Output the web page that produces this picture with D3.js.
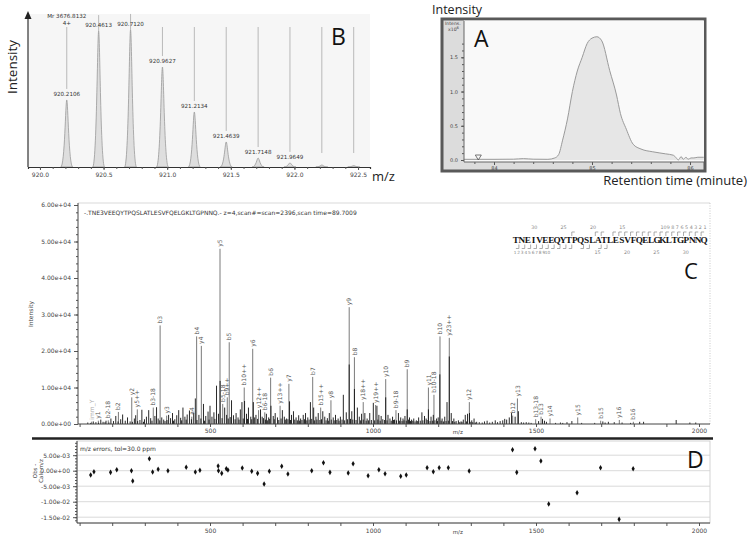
<!DOCTYPE html>
<html>
<head>
<meta charset="utf-8">
<script src="https://cdn.jsdelivr.net/npm/d3@7"></script>
<style>
  body { margin: 0; background: #fff; }
  svg { display: block; }
  text { font-family: "DejaVu Sans", sans-serif; }
</style>
</head>
<body>
<div id="figure"></div>
<script>
// ---------- Data ----------
// Panel B: isotope cluster (relative intensity %)
const bPeakMz = [920.2106, 920.4613, 920.7120, 920.9627, 921.2134, 921.4639, 921.7148, 921.9649, 922.2153, 922.4658];
const bPeakInt = [47.9, 97.1, 97.9, 71.4, 39.3, 17.9, 6.4, 2.9, 1.4, 1.0];
const bPeakLabels = ["920.2106", "920.4613", "920.7120", "920.9627", "921.2134", "921.4639", "921.7148", "921.9649", "", ""];
const bTicks = [920.0, 920.5, 921.0, 921.5, 922.0, 922.5];

// Panel A: extracted ion chromatogram
const aTime = [83.69, 84.0, 84.2, 84.3, 84.4, 84.55, 84.62, 84.66, 84.7, 84.75, 84.8, 84.85, 84.9, 84.95, 85.0, 85.05, 85.1, 85.18, 85.25, 85.29, 85.35, 85.42, 85.5, 85.62, 85.75, 85.83, 85.86, 85.88, 85.91, 85.93, 85.96, 85.98, 86.01, 86.04, 86.08, 86.14];
const aInt = [0.01, 0.01, 0.012, 0.02, 0.012, 0.01, 0.03, 0.08, 0.29, 0.6, 1.0, 1.3, 1.5, 1.7, 1.78, 1.80, 1.74, 1.31, 0.95, 0.68, 0.45, 0.23, 0.16, 0.12, 0.09, 0.07, 0.03, 0.0, 0.05, 0.01, 0.04, 0.01, 0.03, 0.03, 0.04, 0.04];
const aYTicks = [0.0, 0.5, 1.0, 1.5];
const aXTicks = [84, 85, 86];

// Panel C: annotated MS/MS peaks
const cIonLabels = ["imm_Y","y1","b2-18","b2","y2","y5++","b3-18","b3","y3","a4","b4","y4","y5","b5-18","b9++","b5","b10++","y6","y12++","b6-18","b6","y13++","y7","b7","b15++","y8","y9","b8","y18++","y19++","y10","b9-18","b9","y11","b10-18","b10","y23++","y12","b12","y13","b13-18","b13","y14","y15","b15","y16","b16"];
const cIonMz = [137, 157.5, 188, 219, 260, 277, 326, 347, 367, 444, 459, 473.4, 530.7, 539, 553, 559, 605, 631, 649, 668, 686, 715, 742, 815, 839.5, 871, 927, 943, 970, 1008, 1039, 1070.5, 1105, 1170, 1187, 1205.5, 1234, 1295.5, 1428.5, 1443, 1499, 1515.5, 1543, 1628, 1698.4, 1755.6, 1798.6];
const cIonInt = [630, 900, 1000, 3300, 7300, 4000, 4500, 27000, 2300, 2000, 24000, 21400, 48000, 5500, 7300, 22400, 10000, 20600, 3800, 3200, 12700, 5000, 11000, 12900, 4500, 6500, 32000, 18300, 6000, 5200, 12300, 3800, 15000, 10000, 8000, 24000, 23600, 6000, 2300, 7000, 1300, 2000, 1500, 1800, 900, 1100, 600];

// Panel C: unassigned peaks [m/z, intensity]
const cNoise = [
  [125,400],[134,300],[142,700],[150,500],[158,350],[165,1200],[172,600],[178,500],[181,900],[190,400],[196,1500],[204,800],[211,2200],[218,700],
  [226,1300],[232,2600],[240,900],[247,1800],[255,700],[262,600],[268,1500],[272,2400],[278,800],[285,1100],[291,3900],[296,600],[299,1300],
  [305,2000],[312,3800],[318,1600],[322,900],[331,2200],[336,4600],[341,1500],[346,1000],[352,1800],[358,1200],[362,800],[368,1100],[373,2500],
  [379,1600],[385,3000],[388,900],[392,1300],[398,2400],[404,3800],[410,1700],[413,1000],[417,4500],[423,2000],[427,1200],[430,2600],[437,3700],
  [443,1300],[450,3000],[455,7000],[460,1100],[466,2500],[472,1500],[480,5500],[483,900],[487,2200],[494,3400],[497,1200],[500,5000],[506,2000],
  [512,3200],[515,1400],[520,10500],[526,2800],[531,11800],[537,1600],[545,4500],[551,2500],[556,1500],[562,1900],[566,6500],[572,2400],
  [577,1300],[580,3000],[586,1800],[589,1200],[593,4000],[598,6000],[602,1500],[606,6300],[612,2800],[615,1400],[618,4500],[625,2000],
  [628,1300],[633,6000],[637,1800],[641,2500],[646,1400],[655,4000],[660,2000],[664,1600],[670,1200],[673,2800],[676,1000],[680,1800],
  [683,1400],[687,5000],[694,2200],[697,1300],[700,3000],[707,1800],[711,1100],[718,1500],[722,3800],[728,2000],[731,1200],[735,1500],
  [739,1300],[744,6200],[747,1100],[750,2500],[756,3500],[760,1200],[764,1800],[768,1000],[772,2400],[775,900],[778,1500],[782,1100],
  [786,2500],[790,1300],[793,3000],[797,1000],[800,1800],[804,1200],[808,6000],[812,1400],[818,4500],[821,1000],[825,2000],[828,1200],
  [832,3000],[837,1100],[842,1300],[846,3500],[852,2000],[856,1000],[860,1600],[863,900],[866,3000],[872,1200],[878,1800],[881,1000],
  [885,2500],[889,1100],[893,1500],[896,900],[900,2000],[905,1200],[909,8000],[913,1000],[918,3200],[922,1300],[927,16300],[931,1400],
  [935,3500],[938,1200],[943,9600],[948,1100],[952,4500],[958,2000],[962,1000],[965,2800],[970,1200],[975,3000],[979,900],[982,1500],
  [986,1000],[990,3000],[995,1100],[1001,5800],[1005,1000],[1012,5000],[1015,1200],[1018,2500],[1022,900],[1025,2200],[1030,1300],
  [1035,1100],[1039,7300],[1043,1000],[1046,2500],[1052,1500],[1056,900],[1060,2000],[1063,1100],[1066,1200],[1072,1000],[1078,3000],
  [1081,900],[1085,1800],[1089,800],[1092,1500],[1095,1000],[1098,2200],[1102,900],[1105,4000],[1109,1200],[1112,1800],[1115,800],
  [1118,1200],[1122,900],[1125,1500],[1129,700],[1133,1000],[1137,800],[1140,1800],[1145,900],[1150,3200],[1153,1000],[1158,2200],
  [1163,1500],[1166,1100],[1170,4000],[1175,800],[1178,2000],[1182,900],[1185,2500],[1190,1000],[1195,1500],[1198,800],[1200,1800],
  [1205,13600],[1209,900],[1212,1500],[1216,700],[1220,2000],[1224,800],[1227,6000],[1231,900],[1234,18500],[1240,3000],[1244,800],
  [1248,1500],[1251,600],[1255,800],[1262,1000],[1266,500],[1270,700],[1273,600],[1277,1200],[1283,2500],[1287,700],[1290,2800],
  [1296,3000],[1300,600],[1303,1000],[1306,500],[1310,1500],[1314,400],[1318,600],[1326,500],[1335,400],[1342,700],[1350,900],
  [1358,400],[1366,600],[1375,1000],[1382,500],[1390,800],[1398,1000],[1404,1400],[1410,1200],[1418,1800],[1425,3000],[1436,2000],
  [1446,3500],[1455,500],[1462,400],[1470,500],[1478,400],[1485,300],[1508,800],[1520,1400],[1526,900],[1532,600],[1560,300],
  [1575,400],[1582,300],[1595,500],[1610,800],[1640,300],[1680,300],[1705,700],[1712,400],[1722,600],[1740,500],[1764,400],
  [1790,300],[1818,600],[1830,600],[1930,1100],[1972,400],[1990,400]
];
const cYTicks = [0, 10000, 20000, 30000, 40000, 50000, 60000];
const mzTicks = [500, 1000, 1500, 2000];

// Sequence coverage
const sequence = "TNEIVEEQYTPQSLATLESVFQELGKLTGPNNQ";
const bObserved = [1, 2, 3, 4, 5, 6, 7, 8, 9, 10, 12, 13, 15, 16];
const yObserved = [1, 2, 3, 4, 5, 6, 7, 8, 9, 10, 11, 12, 13, 14, 15, 16, 18, 19, 23];
const seqMarks = [15, 20, 25, 30];

// Panel D: mass errors
const dMz = [134, 144, 195, 214, 259, 263, 314, 324, 341, 371, 427, 455, 469, 525, 526, 536, 550, 555, 599, 628, 646, 666, 682, 720, 739, 812, 848, 868, 924, 939, 985, 1018, 1037, 1085, 1102, 1166, 1185, 1203, 1231, 1295, 1428, 1441, 1497, 1515, 1539, 1626, 1698, 1755, 1798];
const dErr = [-1.39e-3, -0.32e-3, -0.53e-3, 0.32e-3, 0, -3.32e-3, 3.87e-3, -0.42e-3, 0.45e-3, 0, 1.1e-3, -0.42e-3, 0.13e-3, 1.52e-3, 0, -0.86e-3, 0.65e-3, 0.23e-3, 0.87e-3, -0.2e-3, -0.86e-3, -4.29e-3, -0.2e-3, 1.42e-3, -1.06e-3, 0, 2.58e-3, -0.53e-3, -0.75e-3, 2.26e-3, -1.61e-3, 0.32e-3, -0.97e-3, -1.81e-3, -1.39e-3, 0.97e-3, -0.32e-3, 0.97e-3, 0.97e-3, -0.1e-3, 6.77e-3, -0.53e-3, 7.1e-3, 3.13e-3, -10.74e-3, -7.1e-3, 0.97e-3, -15.7e-3, 0.65e-3];
const dYTicks = [5e-3, 0, -5e-3, -1e-2, -1.5e-2];

// ---------- Helpers ----------
const sciFormat = d => d.toExponential(2).replace(/e([+-])(\d)$/, "e$10$2");
const axisGray = "#555";

const styleAxis = (g, size) => {
  g.attr("font-family", "DejaVu Sans, sans-serif").attr("font-size", size);
  g.selectAll("line").attr("stroke", axisGray);
  g.selectAll("path").attr("stroke", axisGray);
  g.selectAll("text").attr("fill", "#444");
};

const svg = d3.select("#figure")
  .append("svg")
    .attr("width", 748)
    .attr("height", 537);

// ================= Panel B =================
const xB = d3.scaleLinear().domain([919.906, 922.594]).range([28, 370]);
const yB = d3.scaleLinear().domain([0, 100]).range([167, 27]);

const gB = svg.append("g");
gB.append("rect")
  .attr("x", 28).attr("y", 14).attr("width", 342).attr("height", 153)
  .attr("fill", "#f6f6f6");

// theoretical isotope lines
bPeakMz.forEach((mz, i) => {
  const labelY = yB(bPeakInt[i]) - 4;
  const x = xB(mz);
  let top = Math.min(yB(100), labelY - 12);
  let bottom = bPeakLabels[i] ? labelY - 7 : yB(10);
  if (bPeakLabels[i] && bottom < top + 10) bottom = yB(bPeakInt[i]);
  gB.append("line")
    .attr("x1", x).attr("x2", x).attr("y1", top).attr("y2", bottom)
    .attr("stroke", "#aaa").attr("stroke-width", 0.8);
});

// observed peaks
const peakPath = (mz, inten) => {
  const x = xB(mz), y0 = yB(0), y1 = yB(inten);
  return `M${x - 6},${y0} C${x - 2},${y0} ${x - 1.2},${y1} ${x},${y1} C${x + 1.2},${y1} ${x + 2},${y0} ${x + 6},${y0} Z`;
};
gB.selectAll("path.peak")
  .data(bPeakMz)
  .join("path")
    .attr("class", "peak")
    .attr("d", (d, i) => peakPath(d, bPeakInt[i]))
    .attr("fill", "#dedede")
    .attr("stroke", "#999")
    .attr("stroke-width", 0.8);

gB.selectAll("text.plabel")
  .data(bPeakLabels)
  .join("text")
    .attr("class", "plabel")
    .attr("x", (d, i) => xB(bPeakMz[i]))
    .attr("y", (d, i) => yB(bPeakInt[i]) - 4)
    .attr("text-anchor", "middle")
    .attr("font-size", 5.6)
    .attr("fill", "#333")
    .text(d => d);

gB.append("text").attr("x", xB(bPeakMz[0])).attr("y", 18).attr("text-anchor", "middle")
  .attr("font-size", 5.6).attr("fill", "#333").text("Mr 3676.8132");
gB.append("text").attr("x", xB(bPeakMz[0])).attr("y", 25).attr("text-anchor", "middle")
  .attr("font-size", 5.6).attr("fill", "#333").text("4+");

// axes B
const bMinor = gB.append("g").attr("transform", "translate(0,167)")
  .call(d3.axisBottom(xB).tickValues(d3.range(9200, 9226, 1).map(d => d / 10)).tickSize(2).tickFormat(""));
styleAxis(bMinor, 6);
const bMajor = gB.append("g").attr("transform", "translate(0,167)")
  .call(d3.axisBottom(xB).tickValues(bTicks).tickSize(3).tickFormat(d3.format(".1f")));
styleAxis(bMajor, 6);
bMajor.select(".domain").remove();
bMinor.select(".domain").attr("stroke", "#333").attr("stroke-width", 1.2);
bMajor.selectAll("text").attr("dy", "0.6em");

gB.append("line").attr("x1", 28).attr("x2", 28).attr("y1", 167).attr("y2", 16)
  .attr("stroke", "#333").attr("stroke-width", 1.2);
gB.append("path").attr("d", "M24.5,19 L31.5,19 L28,11 Z").attr("fill", "#222");

gB.append("text")
  .attr("transform", "translate(17,67) rotate(-90)")
  .attr("text-anchor", "middle")
  .style("font-family", "Open Sans, sans-serif")
  .attr("font-size", 13.5).attr("fill", "#222")
  .text("Intensity");
gB.append("text").attr("x", 372).attr("y", 181)
  .style("font-family", "Open Sans, sans-serif")
  .attr("font-size", 13).attr("fill", "#222").text("m/z");
gB.append("text").attr("x", 331).attr("y", 45)
  .style("font-family", "Open Sans, sans-serif")
  .attr("font-size", 23).attr("fill", "#111").text("B");

// ================= Panel A =================
const xA = d3.scaleLinear().domain([84, 86]).range([494, 690]);
const yA = d3.scaleLinear().domain([0, 1.5]).range([160, 57.3]);
const gA = svg.append("g");

gA.append("rect").attr("x", 442).attr("y", 19).attr("width", 263).attr("height", 152)
  .attr("fill", "#dcdcdc").attr("stroke", "#595959").attr("stroke-width", 3);
gA.append("rect").attr("x", 464).attr("y", 20.5).attr("width", 240).attr("height", 141.5)
  .attr("fill", "#f9f9f9");

const areaA = d3.area()
  .x((d, i) => xA(aTime[i]))
  .y0(yA(0))
  .y1(d => yA(d))
  .curve(d3.curveMonotoneX);
const lineA = d3.line()
  .x((d, i) => xA(aTime[i]))
  .y(d => yA(d))
  .curve(d3.curveMonotoneX);
gA.append("path").attr("d", areaA(aInt)).attr("fill", "#e6e6e6");
gA.append("path").attr("d", lineA(aInt)).attr("fill", "none").attr("stroke", "#9a9a9a").attr("stroke-width", 1);

const aYMinor = gA.append("g").attr("transform", "translate(464,0)")
  .call(d3.axisLeft(yA).tickValues(d3.range(0, 18, 1).map(d => d / 10)).tickSize(2).tickFormat(""));
styleAxis(aYMinor, 5);
const aYMajor = gA.append("g").attr("transform", "translate(464,0)")
  .call(d3.axisLeft(yA).tickValues(aYTicks).tickSize(3).tickFormat(d3.format(".1f")));
styleAxis(aYMajor, 5);
aYMajor.select(".domain").remove();
aYMinor.select(".domain").remove();
gA.append("line").attr("x1", 464).attr("x2", 464).attr("y1", 21).attr("y2", 162).attr("stroke", "#666");

const aXMinor = gA.append("g").attr("transform", "translate(0,162)")
  .call(d3.axisBottom(xA).tickValues(d3.range(838, 862, 2).map(d => d / 10)).tickSize(2).tickFormat(""));
styleAxis(aXMinor, 5);
aXMinor.select(".domain").remove();
const aXMajor = gA.append("g").attr("transform", "translate(0,162)")
  .call(d3.axisBottom(xA).tickValues(aXTicks).tickSize(3).tickFormat(d3.format("d")));
styleAxis(aXMajor, 5);
aXMajor.select(".domain").remove();
aXMajor.selectAll("text").attr("dy", "0.3em");
gA.append("line").attr("x1", 464).attr("x2", 704).attr("y1", 162).attr("y2", 162).attr("stroke", "#666");

gA.append("text").attr("x", 445).attr("y", 25).attr("font-size", 4.6).attr("fill", "#444").text("Intens.");
gA.append("text").attr("x", 448).attr("y", 31).attr("font-size", 4.6).attr("fill", "#444")
  .text("x10").append("tspan").attr("dy", -2).attr("font-size", 3.8).text("6");

// trigger marker
gA.append("path")
  .attr("d", `M${xA(83.84) - 3},${yA(0) - 5} L${xA(83.84) + 3},${yA(0) - 5} L${xA(83.84)},${yA(0)} Z`)
  .attr("fill", "none").attr("stroke", "#555").attr("stroke-width", 0.8);

gA.append("text").attr("x", 474).attr("y", 47)
  .style("font-family", "Open Sans, sans-serif")
  .attr("font-size", 23).attr("fill", "#111").text("A");
gA.append("text").attr("x", 432).attr("y", 13.5)
  .style("font-family", "Open Sans, sans-serif")
  .attr("font-size", 12.5).attr("fill", "#222").text("Intensity");
gA.append("text").attr("x", 747).attr("y", 185).attr("text-anchor", "end")
  .style("font-family", "Open Sans, sans-serif")
  .attr("font-size", 13).attr("fill", "#222").text("Retention time (minute)");

// ================= Panel C =================
const xC = d3.scaleLinear().domain([500, 2000]).range([210, 699]);
const yC = d3.scaleLinear().domain([0, 60000]).range([424, 205]);
const gC = svg.append("g");

gC.append("line").attr("x1", 78).attr("x2", 710).attr("y1", 203).attr("y2", 203).attr("stroke", "#cfcfcf").attr("stroke-width", 0.8);
gC.append("line").attr("x1", 710).attr("x2", 710).attr("y1", 203).attr("y2", 424)
  .attr("stroke", "#bbb").attr("stroke-dasharray", "1,1.5").attr("stroke-width", 0.8);

// annotated peaks (gray) then unassigned peaks (black)
gC.selectAll("line.ion")
  .data(cIonMz)
  .join("line")
    .attr("class", "ion")
    .attr("x1", d => xC(d)).attr("x2", d => xC(d))
    .attr("y1", yC(0)).attr("y2", (d, i) => yC(cIonInt[i]))
    .attr("stroke", "#7a7a7a").attr("stroke-width", 1);
gC.selectAll("line.noise")
  .data(cNoise)
  .join("line")
    .attr("class", "noise")
    .attr("x1", d => xC(d[0])).attr("x2", d => xC(d[0]))
    .attr("y1", yC(0)).attr("y2", d => yC(d[1]))
    .attr("stroke", "#111").attr("stroke-width", 0.9);

gC.selectAll("text.ionlabel")
  .data(cIonLabels)
  .join("text")
    .attr("class", "ionlabel")
    .attr("transform", (d, i) => `translate(${xC(cIonMz[i]) + 2.1},${yC(cIonInt[i]) - 2}) rotate(-90)`)
    .attr("font-size", 6)
    .attr("fill", d => d === "imm_Y" ? "#aaa" : "#555")
    .text(d => d);

// axes C
const cYMinor = gC.append("g").attr("transform", "translate(78,0)")
  .call(d3.axisLeft(yC).tickValues(d3.range(0, 61, 2).map(d => d * 1000)).tickSize(2).tickFormat(""));
styleAxis(cYMinor, 6);
cYMinor.select(".domain").remove();
const cYMajor = gC.append("g").attr("transform", "translate(78,0)")
  .call(d3.axisLeft(yC).tickValues(cYTicks).tickSize(4).tickFormat(sciFormat));
styleAxis(cYMajor, 6);
cYMajor.select(".domain").remove();
gC.append("line").attr("x1", 78).attr("x2", 78).attr("y1", 203).attr("y2", 424).attr("stroke", "#444");

const cXTicks = gC.append("g").attr("transform", "translate(0,424)")
  .call(d3.axisBottom(xC).tickValues(d3.range(1, 21).map(d => d * 100)).tickSize(3).tickFormat(""));
styleAxis(cXTicks, 6);
cXTicks.select(".domain").remove();
const cXMajor = gC.append("g").attr("transform", "translate(0,424)")
  .call(d3.axisBottom(xC).tickValues(mzTicks).tickSize(0).tickFormat(d3.format("d")));
styleAxis(cXMajor, 6);
cXMajor.select(".domain").remove();
cXMajor.selectAll("text").attr("dy", "1.05em");
gC.append("line").attr("x1", 78).attr("x2", 710).attr("y1", 424).attr("y2", 424).attr("stroke", "#444");
gC.append("text").attr("x", xC(1260)).attr("y", 434).attr("text-anchor", "middle")
  .attr("font-size", 5.5).attr("fill", "#444").text("m/z");

gC.append("text")
  .attr("transform", "translate(33,314) rotate(-90)")
  .attr("text-anchor", "middle").attr("font-size", 6).attr("fill", "#444").text("Intensity");
gC.append("text").attr("x", 84).attr("y", 215).attr("font-size", 6).attr("fill", "#333")
  .text("-.TNE3VEEQYTPQSLATLESVFQELGKLTGPNNQ.- z=4,scan#=scan=2396,scan time=89.7009");
gC.append("text").attr("x", 684).attr("y", 279)
  .style("font-family", "Open Sans, sans-serif")
  .attr("font-size", 22).attr("fill", "#111").text("C");

// sequence coverage map
const xSeq = d3.scaleLinear().domain([0, sequence.length]).range([513, 707]);
const gSeq = gC.append("g");
gSeq.selectAll("text.res")
  .data(sequence.split(""))
  .join("text")
    .attr("class", "res")
    .attr("x", (d, i) => xSeq(i + 0.5))
    .attr("y", 243)
    .attr("text-anchor", "middle")
    .style("font-family", "Liberation Serif, serif")
    .attr("font-weight", "bold")
    .attr("font-size", 9.2)
    .attr("fill", "#111")
    .text(d => d);

// y ions: bracket above, going right
yObserved.forEach(n => {
  const gx = xSeq(sequence.length - n);
  gSeq.append("path")
    .attr("d", `M${gx},236 L${gx},232 L${gx + 3},232`)
    .attr("fill", "none").attr("stroke", "#888").attr("stroke-width", 0.7);
});
// b ions: bracket below, going left
bObserved.forEach(n => {
  const gx = xSeq(n);
  gSeq.append("path")
    .attr("d", `M${gx},244.5 L${gx},248.5 L${gx - 3},248.5`)
    .attr("fill", "none").attr("stroke", "#888").attr("stroke-width", 0.7);
});
seqMarks.forEach(n => {
  gSeq.append("text").attr("x", xSeq(sequence.length - n) + 0.5).attr("y", 229)
    .attr("font-size", 4.8).attr("fill", "#888").text(n);
  gSeq.append("text").attr("x", xSeq(n) - 0.5).attr("y", 254).attr("text-anchor", "end")
    .attr("font-size", 4.8).attr("fill", "#888").text(n);
});
d3.range(1, 11).forEach(n => {
  gSeq.append("text").attr("x", 705 - (n - 1) * 4.6).attr("y", 229).attr("text-anchor", "middle")
    .attr("font-size", 4.8).attr("fill", "#888").text(n);
  gSeq.append("text").attr("x", 515 + (n - 1) * 3.6).attr("y", 254).attr("text-anchor", "middle")
    .attr("font-size", 4.3).attr("fill", "#888").text(n);
});

// separator
svg.append("line").attr("x1", 32).attr("x2", 713).attr("y1", 438.5).attr("y2", 438.5)
  .attr("stroke", "#222").attr("stroke-width", 2.5);

// ================= Panel D =================
const yD = d3.scaleLinear().domain([-0.01687, 0.00958]).range([523, 441]);
const gD = svg.append("g");

gD.append("rect").attr("x", 77).attr("y", 441).attr("width", 633).attr("height", 82)
  .attr("fill", "#fff").attr("stroke", "#c8c8c8").attr("stroke-width", 0.8);
gD.selectAll("line.grid")
  .data(dYTicks)
  .join("line")
    .attr("class", "grid")
    .attr("x1", 77).attr("x2", 710)
    .attr("y1", d => yD(d)).attr("y2", d => yD(d))
    .attr("stroke", "#cfcfcf").attr("stroke-width", 0.8);

const dYMinor = gD.append("g").attr("transform", "translate(77,0)")
  .call(d3.axisLeft(yD).tickValues(d3.range(-16, 10).map(d => d / 1000)).tickSize(2).tickFormat(""));
styleAxis(dYMinor, 6);
dYMinor.select(".domain").remove();
const dYMajor = gD.append("g").attr("transform", "translate(77,0)")
  .call(d3.axisLeft(yD).tickValues(dYTicks).tickSize(4).tickFormat(sciFormat));
styleAxis(dYMajor, 6);
dYMajor.select(".domain").remove();
gD.append("line").attr("x1", 77).attr("x2", 77).attr("y1", 441).attr("y2", 523).attr("stroke", "#444");

const dXTicks = gD.append("g").attr("transform", "translate(0,523)")
  .call(d3.axisBottom(xC).tickValues(d3.range(1, 21).map(d => d * 100)).tickSize(3).tickFormat(""));
styleAxis(dXTicks, 6);
dXTicks.select(".domain").remove();
const dXMajor = gD.append("g").attr("transform", "translate(0,523)")
  .call(d3.axisBottom(xC).tickValues(mzTicks).tickSize(0).tickFormat(d3.format("d")));
styleAxis(dXMajor, 6);
dXMajor.select(".domain").remove();
dXMajor.selectAll("text").attr("dy", "1.1em");
gD.append("line").attr("x1", 77).attr("x2", 710).attr("y1", 523).attr("y2", 523).attr("stroke", "#444");
gD.append("text").attr("x", xC(1260)).attr("y", 534).attr("text-anchor", "middle")
  .attr("font-size", 5.5).attr("fill", "#444").text("m/z");

gD.selectAll("path.err")
  .data(dMz)
  .join("path")
    .attr("class", "err")
    .attr("transform", (d, i) => `translate(${xC(d)},${yD(dErr[i])})`)
    .attr("d", d3.symbol(d3.symbolDiamond, 9))
    .attr("fill", "#111");

gD.append("text").attr("x", 80).attr("y", 451).attr("font-size", 6).attr("fill", "#333")
  .text("m/z errors, tol=30.0 ppm");
gD.append("text").attr("transform", "translate(37,471) rotate(-90)").attr("text-anchor", "middle")
  .attr("font-size", 5.5).attr("fill", "#444").text("Obs -");
gD.append("text").attr("transform", "translate(43,471) rotate(-90)").attr("text-anchor", "middle")
  .attr("font-size", 5.5).attr("fill", "#444").text("Calc m/z");
gD.append("text").attr("x", 687).attr("y", 468)
  .style("font-family", "Open Sans, sans-serif")
  .attr("font-size", 23).attr("fill", "#111").text("D");
</script>
</body>
</html>
